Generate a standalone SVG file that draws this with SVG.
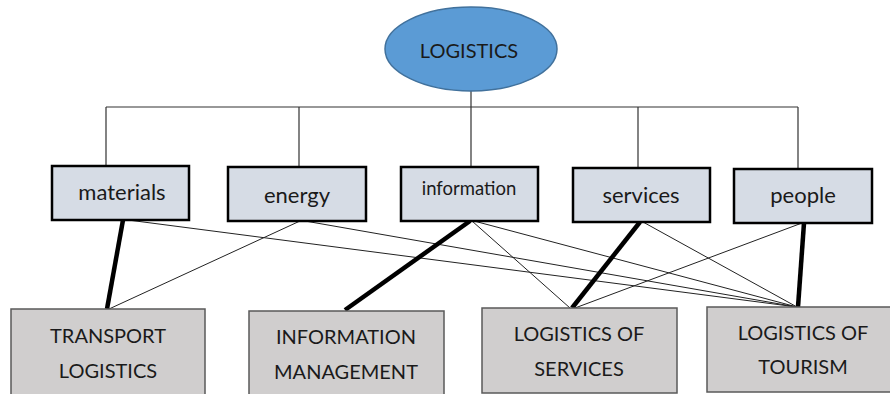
<svg xmlns="http://www.w3.org/2000/svg" width="890" height="394" viewBox="0 0 890 394">
<style>
text{font-family:Lato,"Liberation Sans",sans-serif;fill:#1a1a1a;text-anchor:middle}
.mid rect{fill:#d6dce5;stroke:#000;stroke-width:2.5}
.bot rect{fill:#d0cece;stroke:#5a5a5a;stroke-width:1.5}
.t{font-size:22px}
.b{font-size:20px}
.thin{stroke:#222;stroke-width:1;fill:none}
.thick{stroke:#000;stroke-width:4.5;fill:none}
.tree{stroke:#333;stroke-width:1.2;fill:none}
</style>
<rect width="890" height="394" fill="#fff"/>
<g id="connectors">
<path class="tree" d="M471 91V167M106 107H798M106 107V166M299 107V167M638 107V168M798 107V169"/>
<line class="thin" x1="128" y1="220" x2="797" y2="307"/>
<line class="thin" x1="300" y1="221" x2="109" y2="309"/>
<line class="thin" x1="305" y1="221" x2="797" y2="307"/>
<line class="thin" x1="472" y1="221" x2="570" y2="308"/>
<line class="thin" x1="474" y1="221" x2="797" y2="307"/>
<line class="thin" x1="643" y1="222" x2="797" y2="307"/>
<line class="thin" x1="802" y1="223" x2="575" y2="308"/>
<line class="thick" x1="123" y1="220" x2="107" y2="309"/>
<line class="thick" x1="470" y1="221" x2="345" y2="310"/>
<line class="thick" x1="640" y1="222" x2="572" y2="308"/>
<line class="thick" x1="804" y1="223" x2="798" y2="307"/>
</g>
<g id="logistics">
<ellipse cx="471" cy="49" rx="86" ry="42" fill="#5b9bd5" stroke="#41719c" stroke-width="1.5"/>
<text x="469" y="58" class="b">LOGISTICS</text>
</g>
<g id="materials" class="mid"><rect x="52" y="166" width="137" height="54"/><text x="122" y="200" class="t">materials</text></g>
<g id="energy" class="mid"><rect x="228" y="167" width="138" height="54"/><text x="297" y="203" class="t">energy</text></g>
<g id="information" class="mid"><rect x="401" y="167" width="137" height="54"/><text x="469" y="195" style="font-size:18.5px">information</text></g>
<g id="services" class="mid"><rect x="573" y="168" width="137" height="54"/><text x="641" y="203" class="t">services</text></g>
<g id="people" class="mid"><rect x="734" y="169" width="138" height="54"/><text x="803" y="203" class="t">people</text></g>
<g id="transport" class="bot"><rect x="11" y="309" width="194" height="95"/><text x="108" y="343" class="b">TRANSPORT</text><text x="108" y="378" class="b">LOGISTICS</text></g>
<g id="infomgmt" class="bot"><rect x="249" y="311" width="195" height="93"/><text x="346" y="344" class="b">INFORMATION</text><text x="346" y="379" class="b">MANAGEMENT</text></g>
<g id="logservices" class="bot"><rect x="482" y="308" width="195" height="85"/><text x="579" y="341" class="b">LOGISTICS OF</text><text x="579" y="376" class="b">SERVICES</text></g>
<g id="logtourism" class="bot"><rect x="707" y="307" width="190" height="85"/><text x="803" y="340" class="b">LOGISTICS OF</text><text x="803" y="374" class="b">TOURISM</text></g>
</svg>
